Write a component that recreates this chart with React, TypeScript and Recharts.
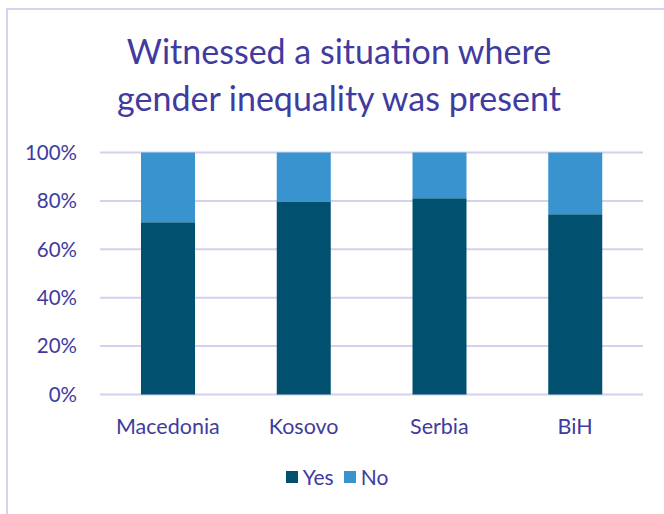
import { BarChart, Bar, XAxis, YAxis, CartesianGrid, Legend } from "recharts";

const countries = ["Macedonia", "Kosovo", "Serbia", "BiH"];
const yesValues = [71.2, 79.8, 81.1, 74.5];
const noValues = [28.8, 20.2, 18.9, 25.5];
const yTicks = [0, 20, 40, 60, 80, 100];
const seriesOrder = ["Yes", "No"];

const TEXT = "#3F3B9F";
const YES = "#02506F";
const NO = "#3893CF";
const FONT = "Lato, 'Open Sans', sans-serif";

const data = countries.map((c, i) => ({ country: c, Yes: yesValues[i], No: noValues[i] }));

function LegendBox({ payload }: any) {
  const items = [...(payload || [])].sort(
    (a: any, b: any) => seriesOrder.indexOf(a.value) - seriesOrder.indexOf(b.value)
  );
  return (
    <div style={{ display: "flex", justifyContent: "center", fontFamily: FONT, fontSize: 21, color: TEXT }}>
      {items.map((p: any) => (
        <div key={p.value} style={{ display: "flex", alignItems: "center", marginRight: 10 }}>
          <span style={{ width: 12, height: 12, background: p.color, display: "inline-block", marginRight: 5 }} />
          <span>{p.value}</span>
        </div>
      ))}
    </div>
  );
}

export default function App() {
  return (
    <div style={{ position: "absolute", left: 0, top: 0, width: 664, height: 514, background: "#fff", overflow: "hidden" }}>
      <div
        style={{
          position: "absolute",
          left: 6,
          top: 8,
          width: 700,
          height: 600,
          borderLeft: "2px solid #D6D3F0",
          borderTop: "2px solid #D6D3F0",
        }}
      />
      <div
        style={{
          position: "absolute",
          left: 0,
          top: 27,
          width: 678,
          textAlign: "center",
          fontFamily: FONT,
          fontSize: 34,
          lineHeight: "47px",
          color: TEXT,
        }}
      >
        Witnessed a situation where
        <br />
        gender inequality was present
      </div>
      <div style={{ position: "absolute", left: 0, top: 0 }}>
        <BarChart
          width={664}
          height={514}
          data={data}
          margin={{ top: 152.5, right: 21, bottom: 89.5, left: 10 }}
          barSize={54}
        >
          <CartesianGrid vertical={false} stroke="#D4D0EE" strokeWidth={2} />
          <XAxis
            dataKey="country"
            axisLine={false}
            tickLine={false}
            tickSize={0}
            tickMargin={24}
            height={30}
            tick={{ fontFamily: FONT, fontSize: 21.5, fill: TEXT }}
          />
          <YAxis
            domain={[0, 100]}
            ticks={yTicks}
            width={90}
            axisLine={false}
            tickLine={false}
            tickSize={0}
            tickMargin={23}
            tickFormatter={(v: number) => `${v}%`}
            tick={{ fontFamily: FONT, fontSize: 20.5, fill: TEXT }}
          />
          <Legend
            layout="horizontal"
            align="center"
            verticalAlign="middle"
            wrapperStyle={{ top: 464, left: 10, width: 664 }}
            content={<LegendBox />}
          />
          <Bar dataKey="Yes" stackId="a" fill={YES} isAnimationActive={false} />
          <Bar dataKey="No" stackId="a" fill={NO} isAnimationActive={false} />
        </BarChart>
      </div>
    </div>
  );
}
